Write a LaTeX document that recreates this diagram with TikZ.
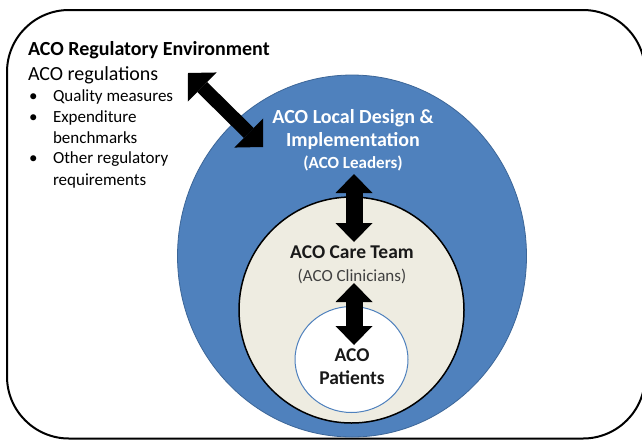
\documentclass[tikz,border=0pt]{standalone}
\usepackage{fontspec}
\setmainfont{Carlito}
\usetikzlibrary{arrows.meta,shapes.geometric}
\definecolor{acoblue}{HTML}{4F81BD}
\definecolor{acoedge}{HTML}{3C6698}
\definecolor{acotan}{HTML}{EEECE1}
\definecolor{acogray}{HTML}{404040}
\newcommand{\fs}[1]{\fontsize{#1}{#1}\selectfont}
\tikzset{
  txt/.style={inner sep=0pt, outer sep=0pt, anchor=base west},
  ctxt/.style={inner sep=0pt, outer sep=0pt, anchor=base, align=center},
  bigarrow/.style={line width=17pt, line cap=butt,
    {Triangle[length=19pt,width=37pt,line width=0pt]}-{Triangle[length=19pt,width=37pt,line width=0pt]}},
  diagarrow/.style={line width=14pt, line cap=butt,
    {Triangle[length=20pt,width=41pt,line width=0pt]}-{Triangle[length=20pt,width=41pt,line width=0pt]}},
}
\begin{document}
\begin{tikzpicture}[x=1pt,y=-1pt]
\useasboundingbox (0,0) rectangle (642,440);
\clip (0,0) rectangle (642,440);
\fill[white] (0,0) rectangle (642,440);
% environment frame
\draw[line width=2pt, rounded corners=62pt] (7,10) rectangle (645,438.5);
% blue ellipse
\node[ellipse, draw=acoedge, line width=0.8pt, fill=acoblue, minimum width=349pt, minimum height=362pt, inner sep=0pt] (local) at (352,256) {};
% tan ellipse
\node[ellipse, draw=black, line width=1.5pt, fill=acotan, minimum width=225pt, minimum height=226pt, inner sep=0pt] (team) at (351.5,310) {};
% patients circle
\node[ellipse, draw=acoblue, line width=1pt, fill=white, minimum width=113pt, minimum height=106pt, inner sep=0pt] (pat) at (351.5,359.5) {};

% left texts
\node[txt, font=\fs{20}\bfseries] (env) at (28,55) {ACO Regulatory Environment};
\node[txt, font=\fs{20}] (regs) at (28,80) {ACO regulations};
\foreach \y/\t/\b in {101.5/Quality measures/1, 122.5/Expenditure/1, 143.5/benchmarks/0, 163.5/Other regulatory/1, 185.5/requirements/0}{
  \node[txt, font=\fs{17}] at (53,\y) {\t};
  \ifnum\b=1 \node[txt, font=\fs{17}] at (29,\y) {\textbullet};\fi
}

% blue texts
\node[ctxt, font=\fs{20}\bfseries, text=white] (ld1) at (353,123) {ACO Local Design \&};
\node[ctxt, font=\fs{20}\bfseries, text=white] (ld2) at (353,146) {Implementation};
\node[ctxt, font=\fs{17}\bfseries, text=white] (ld3) at (353,168) {(ACO Leaders)};

% team texts
\node[ctxt, font=\fs{19.5}\bfseries, text=black!90] (ct1) at (352,258.5) {ACO Care Team};
\node[ctxt, font=\fs{17}, text=acogray] (ct2) at (352,281) {(ACO Clinicians)};

% patients texts
\node[ctxt, font=\fs{19.5}\bfseries, text=black!90] (p1) at (352,361.5) {ACO};
\node[ctxt, font=\fs{19.5}\bfseries, text=black!90] (p2) at (352,384.5) {Patients};

% arrows
\coordinate (a1s) at (188,73);
\coordinate (a1e) at (263,147);
\coordinate (a2s) at (354,174);
\coordinate (a2e) at (354,242);
\coordinate (a3s) at (354,283);
\coordinate (a3e) at (354,345);
\draw[diagarrow] (a1s) -- (a1e);
\draw[bigarrow] (a2s) -- (a2e);
\draw[bigarrow] (a3s) -- (a3e);
\end{tikzpicture}
\end{document}
